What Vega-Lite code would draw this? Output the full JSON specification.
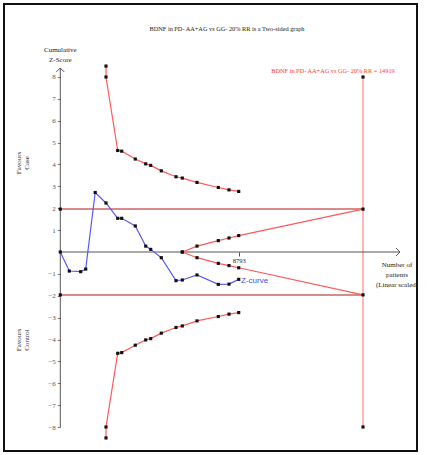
{
  "$schema": "https://vega.github.io/schema/vega-lite/v6.json",
  "width": 413,
  "height": 447,
  "padding": {"left": 4, "top": 4, "right": 10, "bottom": 4},
  "autosize": {"type": "none"},
  "background": "white",
  "config": {
    "view": {"stroke": "#111", "strokeWidth": 2},
    "font": "Liberation Serif"
  },
  "datasets": {
    "curves": [
      {"series": "zcurve", "n": 0, "z": 0},
      {"series": "zcurve", "n": 444, "z": -0.87},
      {"series": "zcurve", "n": 1005, "z": -0.9},
      {"series": "zcurve", "n": 1252, "z": -0.78},
      {"series": "zcurve", "n": 1720, "z": 2.72},
      {"series": "zcurve", "n": 2252, "z": 2.24},
      {"series": "zcurve", "n": 2829, "z": 1.54},
      {"series": "zcurve", "n": 3026, "z": 1.54},
      {"series": "zcurve", "n": 3696, "z": 1.19},
      {"series": "zcurve", "n": 4209, "z": 0.27},
      {"series": "zcurve", "n": 4456, "z": 0.12},
      {"series": "zcurve", "n": 4978, "z": -0.26},
      {"series": "zcurve", "n": 5702, "z": -1.31},
      {"series": "zcurve", "n": 6013, "z": -1.28},
      {"series": "zcurve", "n": 6737, "z": -1.05},
      {"series": "zcurve", "n": 7787, "z": -1.48},
      {"series": "zcurve", "n": 8314, "z": -1.47},
      {"series": "zcurve", "n": 8793, "z": -1.25},
      {"series": "upper", "n": 2252, "z": 8.5},
      {"series": "upper", "n": 2252, "z": 8.0},
      {"series": "upper", "n": 2829, "z": 4.64},
      {"series": "upper", "n": 3026, "z": 4.61},
      {"series": "upper", "n": 3696, "z": 4.25},
      {"series": "upper", "n": 4209, "z": 4.03},
      {"series": "upper", "n": 4456, "z": 3.96},
      {"series": "upper", "n": 4978, "z": 3.71},
      {"series": "upper", "n": 5702, "z": 3.44},
      {"series": "upper", "n": 6013, "z": 3.38},
      {"series": "upper", "n": 6737, "z": 3.18},
      {"series": "upper", "n": 7787, "z": 2.95},
      {"series": "upper", "n": 8314, "z": 2.84},
      {"series": "upper", "n": 8793, "z": 2.77},
      {"series": "lower", "n": 2252, "z": -8.5},
      {"series": "lower", "n": 2252, "z": -8.0},
      {"series": "lower", "n": 2829, "z": -4.63},
      {"series": "lower", "n": 3026, "z": -4.6},
      {"series": "lower", "n": 3696, "z": -4.26},
      {"series": "lower", "n": 4209, "z": -4.02},
      {"series": "lower", "n": 4456, "z": -3.96},
      {"series": "lower", "n": 4978, "z": -3.71},
      {"series": "lower", "n": 5702, "z": -3.45},
      {"series": "lower", "n": 6013, "z": -3.38},
      {"series": "lower", "n": 6737, "z": -3.15},
      {"series": "lower", "n": 7787, "z": -2.95},
      {"series": "lower", "n": 8314, "z": -2.84},
      {"series": "lower", "n": 8793, "z": -2.77},
      {"series": "futU", "n": 6013, "z": 0},
      {"series": "futU", "n": 6737, "z": 0.27},
      {"series": "futU", "n": 7787, "z": 0.52},
      {"series": "futU", "n": 8314, "z": 0.64},
      {"series": "futU", "n": 8793, "z": 0.75},
      {"series": "futU", "n": 14919, "z": 1.96},
      {"series": "futL", "n": 6013, "z": 0},
      {"series": "futL", "n": 6737, "z": -0.26},
      {"series": "futL", "n": 7787, "z": -0.52},
      {"series": "futL", "n": 8314, "z": -0.62},
      {"series": "futL", "n": 8793, "z": -0.72},
      {"series": "futL", "n": 14919, "z": -1.96}
    ],
    "ends": [
      {"n": 0, "z": 1.96},
      {"n": 0, "z": -1.96},
      {"n": 14919, "z": 8},
      {"n": 14919, "z": -8}
    ]
  },
  "encoding": {
    "x": {
      "field": "n",
      "type": "quantitative",
      "scale": {"domain": [-2775, 17580], "nice": false, "zero": false},
      "axis": {
        "values": [8793],
        "format": "d",
        "offset": -199,
        "domain": false,
        "grid": false,
        "tickSize": 4,
        "tickColor": "#555",
        "labelFontSize": 6.5,
        "labelColor": "#222",
        "labelPadding": 1,
        "title": null
      }
    },
    "y": {
      "field": "z",
      "type": "quantitative",
      "scale": {"domain": [-9.097, 11.337], "nice": false, "zero": false},
      "axis": {
        "values": [-8, -7, -6, -5, -4, -3, -2, -1, 1, 2, 3, 4, 5, 6, 7, 8],
        "offset": -56.3,
        "domain": false,
        "grid": false,
        "tickSize": 3,
        "tickColor": "#777",
        "labelFontSize": 7,
        "labelColor": "#555",
        "labelPadding": 2,
        "title": null
      }
    }
  },
  "layer": [
    {
      "data": {"values": [
        {"n": 0, "n2": 14919, "z": 1.96, "z2": 1.96},
        {"n": 0, "n2": 14919, "z": -1.96, "z2": -1.96}
      ]},
      "mark": {"type": "rule", "color": "#d98a8a", "strokeWidth": 2},
      "encoding": {"x2": {"field": "n2"}, "y2": {"field": "z2"}}
    },
    {
      "data": {"values": [{"n": 14919, "n2": 14919, "z": -8, "z2": 8}]},
      "mark": {"type": "rule", "color": "#ffb6b6", "strokeWidth": 2},
      "encoding": {"x2": {"field": "n2"}, "y2": {"field": "z2"}}
    },
    {
      "data": {"values": [
        {"n": 0, "n2": 16742, "z": 0, "z2": 0},
        {"n": 0, "n2": 0, "z": -8, "z2": 8.41}
      ]},
      "mark": {"type": "rule", "color": "#555", "strokeWidth": 1},
      "encoding": {"x2": {"field": "n2"}, "y2": {"field": "z2"}}
    },
    {
      "data": {"name": "curves"},
      "mark": {"type": "line", "strokeWidth": 1.2},
      "encoding": {
        "color": {
          "field": "series",
          "type": "nominal",
          "scale": {
            "domain": ["zcurve", "upper", "lower", "futU", "futL"],
            "range": ["#5a5af5", "#ff5a5a", "#ff5a5a", "#ff5a5a", "#ff5a5a"]
          },
          "legend": null
        },
        "order": {"value": null}
      }
    },
    {
      "data": {"name": "curves"},
      "mark": {"type": "square", "color": "#111", "size": 10, "opacity": 1}
    },
    {
      "data": {"name": "ends"},
      "mark": {"type": "square", "color": "#111", "size": 10, "opacity": 1}
    },
    {
      "data": {"values": [{"n": 16742, "z": 0}]},
      "mark": {"type": "point", "shape": "M-1,-1L0,0L-1,1", "size": 64, "filled": false, "stroke": "#555", "strokeWidth": 1, "opacity": 1}
    },
    {
      "data": {"values": [{"n": 0, "z": 8.41}]},
      "mark": {"type": "point", "shape": "M-1,1L0,0L1,1", "size": 64, "filled": false, "stroke": "#555", "strokeWidth": 1, "opacity": 1}
    },
    {
      "data": {"values": [{"n": 8216, "z": 10.19, "label": "BDNF in PD- AA+AG vs GG- 20% RR is a Two-sided graph"}]},
      "mark": {"type": "text", "fontSize": 6.3, "color": "#222", "align": "center", "baseline": "middle"},
      "encoding": {"text": {"field": "label"}}
    },
    {
      "data": {"values": [{"n": 13440, "z": 8.29, "label": "BDNF in PD- AA+AG vs GG- 20% RR = 14919"}]},
      "mark": {"type": "text", "fontSize": 6.3, "color": "#ff3b3b", "align": "center", "baseline": "middle"},
      "encoding": {"text": {"field": "label"}}
    },
    {
      "data": {"values": [{"n": 0, "z": 9.234, "label": "Cumulative\nZ-Score"}]},
      "mark": {"type": "text", "fontSize": 7, "color": "#222", "align": "center", "baseline": "middle", "lineBreak": "\n", "lineHeight": 10},
      "encoding": {"text": {"field": "label"}}
    },
    {
      "data": {"values": [{"n": 16594, "z": -0.594, "label": "Number of\npatients\n(Linear scaled)"}]},
      "mark": {"type": "text", "fontSize": 7, "color": "#222", "align": "center", "baseline": "middle", "lineBreak": "\n", "lineHeight": 10},
      "encoding": {"text": {"field": "label"}}
    },
    {
      "data": {"values": [
        {"n": -2035, "z": 4.07, "label": "Favours\nCase"},
        {"n": -2035, "z": -4.02, "label": "Favours\nControl"}
      ]},
      "mark": {"type": "text", "fontSize": 7, "color": "#333", "align": "center", "baseline": "middle", "angle": 270, "lineBreak": "\n", "lineHeight": 8},
      "encoding": {"text": {"field": "label"}}
    },
    {
      "data": {"values": [{"n": 8906, "z": -1.33, "label": "Z-curve"}]},
      "mark": {"type": "text", "font": "Liberation Sans", "fontSize": 8, "color": "#4a4af0", "align": "left", "baseline": "middle"},
      "encoding": {"text": {"field": "label"}}
    }
  ]
}
